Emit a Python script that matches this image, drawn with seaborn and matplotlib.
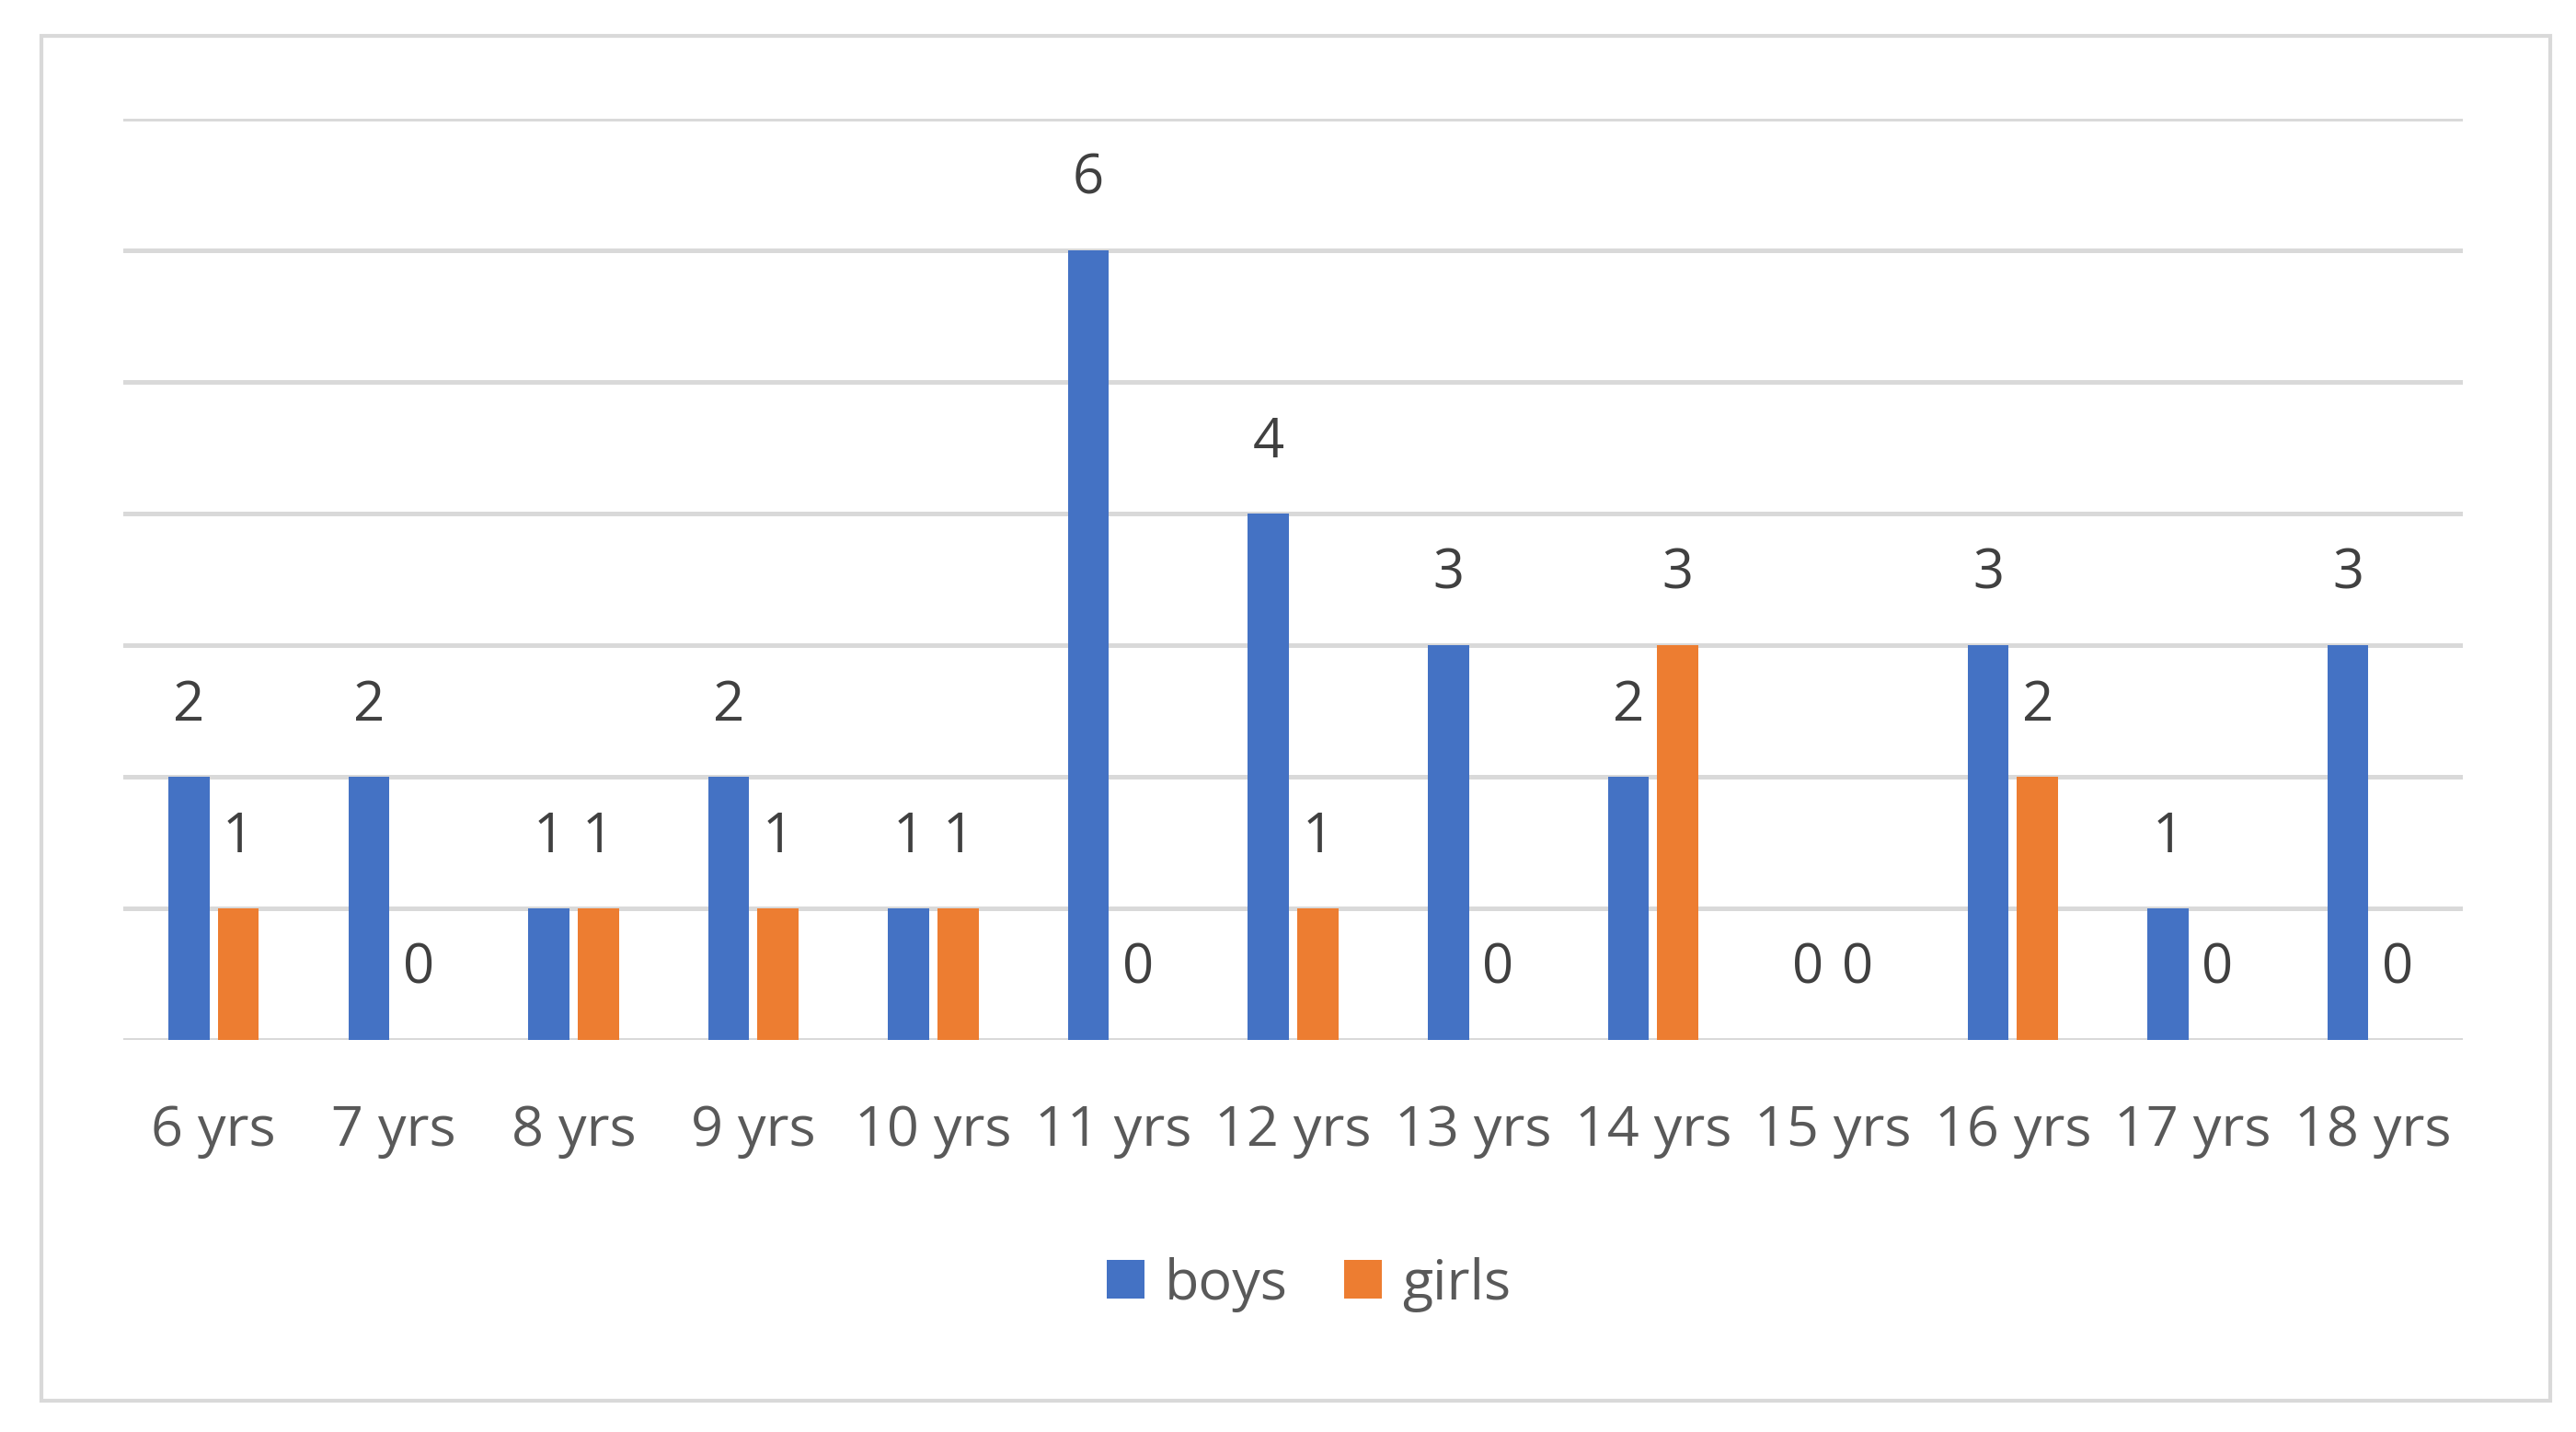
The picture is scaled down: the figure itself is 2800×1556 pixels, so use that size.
import matplotlib.pyplot as plt
import seaborn as sns
import pandas as pd
from matplotlib.patches import Rectangle

# data
ages = ["6 yrs", "7 yrs", "8 yrs", "9 yrs", "10 yrs", "11 yrs", "12 yrs",
        "13 yrs", "14 yrs", "15 yrs", "16 yrs", "17 yrs", "18 yrs"]
boys = [2, 2, 1, 2, 1, 6, 4, 3, 2, 0, 3, 1, 3]
girls = [1, 0, 1, 1, 1, 0, 1, 0, 3, 0, 2, 0, 0]

df = pd.DataFrame({
    "age": ages * 2,
    "count": boys + girls,
    "group": ["boys"] * len(ages) + ["girls"] * len(ages),
})

sns.set_theme(style="white")
plt.rcParams["font.family"] = ["Open Sans", "DejaVu Sans"]
text_col = "#595959"

fig = plt.figure(figsize=(14, 7.78), dpi=200)
ax = fig.add_axes([0.048, 0.274, 0.908, 0.643])

sns.barplot(data=df, x="age", y="count", hue="group", order=ages,
            palette={"boys": "#4472C4", "girls": "#ED7D31"},
            saturation=1, linewidth=0, edgecolor="none",
            width=0.55, gap=0.17, ax=ax, legend=True)

for cont in ax.containers:
    ax.bar_label(cont, fmt="%d", padding=17, fontsize=21.5, color="#404040")

ax.set_ylim(0, 7)
ax.set_xlim(-0.5, len(ages) - 0.5)
ax.set_yticks(range(0, 8))
ax.set_yticklabels([])
ax.yaxis.grid(True, color="#D9D9D9", linewidth=1.8)
ax.set_axisbelow(True)
for s in ax.spines.values():
    s.set_visible(False)
ax.tick_params(axis="x", length=0, pad=25, labelsize=22, labelcolor=text_col)
ax.tick_params(axis="y", length=0)
ax.set_xlabel("")
ax.set_ylabel("")

leg = ax.legend(loc="center", bbox_to_anchor=(0.508, 0.103),
                bbox_transform=fig.transFigure, ncol=2, frameon=False,
                fontsize=22, handlelength=0.68, handleheight=0.68,
                handletextpad=0.35, columnspacing=1.0)
for t in leg.get_texts():
    t.set_color(text_col)

# outer chart border
fig.patches.append(Rectangle((0.016, 0.022), 0.974, 0.953,
                             transform=fig.transFigure, fill=False,
                             edgecolor="#D9D9D9", linewidth=1.5))

fig.savefig("out.png", dpi=200, facecolor="white")
